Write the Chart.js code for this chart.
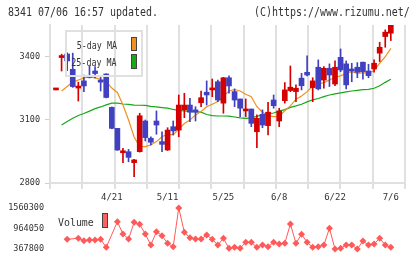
<!DOCTYPE html>
<html lang="ja">
<head>
<meta charset="UTF-8">
<title>8341 chart</title>
<style>
  body { margin: 0; background: #fff; font-family: 'DejaVu Sans Mono', monospace; color: #333; }
  .wrap { position: relative; width: 420px; height: 259px; overflow: hidden; }
  canvas { position: absolute; left: 0; }
  #main { top: 0; }
  #vol { top: 200px; }
  .txt { position: absolute; white-space: nowrap; line-height: 12px; }
  .title { left: 8px; top: 6px; font-size: 12px; transform: scaleX(0.83); transform-origin: left top; }
  .copy { right: 10px; top: 6px; font-size: 12px; transform: scaleX(0.83); transform-origin: right top; }
  .lg-box { position: absolute; left: 65px; top: 30px; width: 78px; height: 47px; border: 2px solid #e0e0e0; box-sizing: border-box; }
  .lg-text { position: absolute; font-size: 11px; line-height: 11px; right: 303px; transform: scaleX(0.76); transform-origin: right top; white-space: nowrap; }
  .sw { position: absolute; width: 6px; border: 1px solid #444; box-sizing: border-box; }
</style>
</head>
<body>
<div class="wrap">
  <canvas id="main" width="420" height="205"></canvas>
  <canvas id="vol" width="420" height="59"></canvas>
  <div class="txt title">8341 07/06 16:57 updated.</div>
  <div class="txt copy">(C)https://www.rizumu.net/</div>
  <div class="lg-box"></div>
  <div class="lg-text" style="top:40px">5-day MA</div>
  <div class="sw" style="left:131px; top:37px; height:14px; background:#f0901e"></div>
  <div class="lg-text" style="top:57px">25-day MA</div>
  <div class="sw" style="left:131px; top:54px; height:15px; background:#18a818"></div>
  <div class="lg-text" style="top:217px; left:58px; right:auto; transform:scaleX(0.9); transform-origin:left top">Volume</div>
  <div class="sw" style="left:102px; top:213px; height:15px; background:#ff6060"></div>
</div>

<script src="https://cdn.jsdelivr.net/npm/chart.js"></script>
<script>
// trading days (2020/4/7 - 7/6)
const dates = ['4/7','4/8','4/9','4/10','4/13','4/14','4/15','4/16','4/17','4/20',
  '4/21','4/22','4/23','4/24','4/27','4/28','4/30','5/1','5/7','5/8',
  '5/11','5/12','5/13','5/14','5/15','5/18','5/19','5/20','5/21','5/22',
  '5/25','5/26','5/27','5/28','5/29','6/1','6/2','6/3','6/4','6/5',
  '6/8','6/9','6/10','6/11','6/12','6/15','6/16','6/17','6/18','6/19',
  '6/22','6/23','6/24','6/25','6/26','6/29','6/30','7/1','7/2','7/3','7/6'];

const open = [3243,3397,3414,3341,3252,3286,3311,3333,3287,3319,
  3160,3060,2944,2949,2897,2949,3095,3013,3095,2997,
  2957,3068,3052,3148,3171,3148,3182,3232,3243,3282,
  3180,3301,3235,3200,3143,3152,3044,3127,3073,3195,
  3095,3192,3240,3235,3299,3327,3254,3351,3290,3346,
  3271,3398,3367,3338,3351,3375,3333,3343,3418,3497,3513];
const high = [3244,3413,3420,3418,3280,3314,3357,3354,3306,3320,
  3162,3060,2965,2960,2913,3132,3100,3020,3143,3044,
  3063,3095,3219,3227,3203,3163,3238,3286,3295,3290,
  3303,3310,3248,3200,3200,3152,3124,3148,3184,3219,
  3156,3278,3357,3267,3322,3405,3301,3386,3354,3367,
  3381,3438,3381,3370,3373,3375,3365,3386,3470,3529,3560];
const low = [3243,3333,3335,3255,3190,3235,3300,3300,3238,3205,
  3058,2955,2897,2901,2830,2947,3000,2981,3032,2949,
  2955,3029,3020,3111,3092,3095,3163,3171,3211,3187,
  3132,3227,3163,3116,3116,3068,2968,3063,3029,3156,
  3068,3180,3235,3187,3243,3310,3187,3243,3251,3259,
  3263,3330,3248,3282,3301,3294,3301,3327,3378,3446,3478];
const close = [3244,3400,3381,3259,3256,3262,3303,3321,3280,3207,
  3060,2957,2952,2922,2910,3120,3016,2994,3076,2984,
  3052,3048,3171,3171,3137,3137,3206,3219,3251,3195,
  3301,3262,3195,3156,3152,3084,3108,3076,3137,3168,
  3143,3243,3256,3251,3263,3314,3286,3248,3346,3314,
  3351,3338,3267,3333,3327,3330,3311,3370,3446,3518,3555];

const ma5 = [null,3238,3259,3280,3290,3300,3305,3300,3293,3283,
  3252,3231,3171,3100,3019,2973,2973,2981,2997,3020,
  3033,3029,3057,3083,3100,3124,3140,3163,3175,3188,
  3212,3238,3245,3238,3222,3211,3163,3137,3120,3116,
  3117,3144,3167,3199,3214,3235,3263,3271,3278,3290,
  3303,3310,3322,3330,3322,3325,3322,3335,3370,3401,3441];
const ma25 = [null,3076,3093,3108,3121,3131,3142,3154,3162,3172,
  3180,3180,3176,3174,3171,3170,3169,3165,3162,3159,
  3156,3150,3145,3143,3140,3140,3137,3126,3121,3119,
  3119,3118,3114,3110,3108,3110,3117,3125,3129,3133,
  3142,3149,3160,3167,3175,3186,3196,3202,3211,3219,
  3224,3229,3234,3238,3241,3244,3246,3251,3263,3279,3294];

const volume = [null,null,650000,null,679000,610000,630000,630000,650000,417000,
  null,1162000,804000,659000,1144000,1086000,804000,484000,871000,755000,
  533000,435000,1560300,853000,697000,659000,659000,775000,650000,484000,
  679000,388000,417000,388000,562000,562000,417000,484000,435000,562000,
  513000,533000,1095000,533000,795000,562000,417000,435000,484000,970000,
  367800,388000,484000,484000,370000,600000,484000,513000,679000,484000,417000];

const tickLabels = ['4/21','5/11','5/25','6/8','6/22','7/6'];
const priceTicks = [2800, 3100, 3400];
const volTicks = [367800, 964050, 1560300];

const X_MIN = -1.075, X_MAX = 62.54, GRID_DIV = 11;
const UP = '#d40000', DOWN = '#4040c0';
const GRID = '#e0e0e0';
const TXT = '#333';

Chart.defaults.font.family = "'DejaVu Sans Mono', monospace";
Chart.defaults.color = TXT;

const candleColors = dates.map((d, i) => close[i] >= open[i] ? UP : DOWN);

// keep the plot edges where the axis widths put them
const noPad = s => { s.paddingLeft = 0; s.paddingRight = 0; s.paddingTop = 0; s.paddingBottom = 0; };

new Chart(document.getElementById('main'), {
  type: 'bar',
  data: {
    datasets: [
      {
        data: dates.map((d, i) => ({ x: i, y: [open[i], close[i]] })),
        backgroundColor: candleColors,
        barThickness: 5, minBarLength: 2, grouped: false, order: 1
      },
      {
        data: dates.map((d, i) => ({ x: i, y: [low[i], high[i]] })),
        backgroundColor: candleColors,
        barThickness: 1, grouped: false, order: 2
      },
      {
        type: 'line',
        data: dates.map((d, i) => ({ x: i, y: ma5[i] })),
        borderColor: '#f0901e', borderWidth: 1.2, pointRadius: 0, order: 3
      },
      {
        type: 'line',
        data: dates.map((d, i) => ({ x: i, y: ma25[i] })),
        borderColor: '#18a818', borderWidth: 1.2, pointRadius: 0, order: 4
      }
    ]
  },
  options: {
    responsive: false,
    animation: false,
    layout: { padding: { top: 25, right: 15, bottom: 0, left: 0 }, autoPadding: false },
    plugins: { legend: { display: false }, tooltip: { enabled: false } },
    scales: {
      x: {
        type: 'linear', min: X_MIN, max: X_MAX, offset: false,
        afterBuildTicks: s => {
          const t = [];
          for (let k = 0; k <= GRID_DIV; k++) {
            t.push({ value: X_MIN + (X_MAX - X_MIN) * k / GRID_DIV, grid: true });
          }
          tickLabels.forEach(l => t.push({ value: dates.indexOf(l), text: l }));
          t.sort((a, b) => a.value - b.value);
          s.ticks = t;
        },
        afterFit: s => { s.height = 22; noPad(s); },
        ticks: {
          autoSkip: false, maxRotation: 0, minRotation: 0, padding: 3,
          font: { size: 9 },
          callback: (v, i, ticks) => ticks[i].text || ''
        },
        grid: {
          offset: false,
          color: c => (c.tick && c.tick.grid) ? GRID : 'rgba(0,0,0,0)',
          lineWidth: 2, tickLength: 6
        },
        border: { color: GRID, width: 2 }
      },
      y: {
        min: 2800, max: 3552, beginAtZero: false,
        afterBuildTicks: s => { s.ticks = priceTicks.map(v => ({ value: v })); },
        afterFit: s => { s.width = 50; noPad(s); },
        ticks: { padding: 5, font: { size: 8.5 }, callback: v => String(v) },
        grid: { drawOnChartArea: false, tickLength: 5, color: '#cfcfcf', lineWidth: 1 },
        border: { color: GRID, width: 2 }
      }
    }
  }
});

new Chart(document.getElementById('vol'), {
  type: 'line',
  data: {
    datasets: [{
      data: dates.map((d, i) => ({ x: i, y: volume[i] })),
      borderColor: '#ff5a5a', backgroundColor: '#ff5a5a',
      borderWidth: 1, pointStyle: 'rectRot', pointRadius: 3.5, pointBorderWidth: 0,
      spanGaps: true, clip: false
    }]
  },
  options: {
    responsive: false,
    animation: false,
    layout: { padding: { top: 8, right: 15, bottom: 10, left: 0 }, autoPadding: false },
    plugins: { legend: { display: false }, tooltip: { enabled: false } },
    scales: {
      x: { type: 'linear', min: X_MIN, max: X_MAX, display: false },
      y: {
        min: volTicks[0], max: volTicks[2],
        afterBuildTicks: s => { s.ticks = volTicks.map(v => ({ value: v })); },
        afterFit: s => { s.width = 50; noPad(s); },
        ticks: { padding: 6, font: { size: 8.5 }, callback: v => String(v) },
        grid: { display: false, drawTicks: false },
        border: { display: false }
      }
    }
  }
});
</script>
</body>
</html>
